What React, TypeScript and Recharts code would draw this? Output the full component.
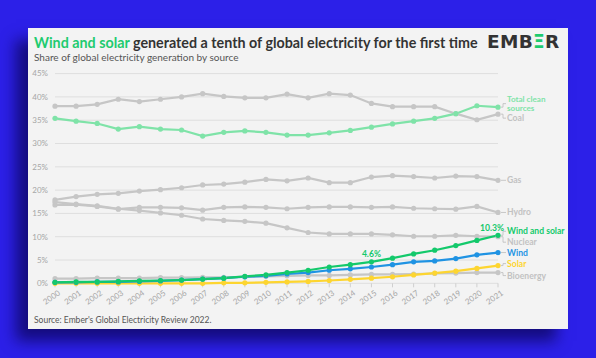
import React from 'react';
import { LineChart, Line, XAxis, YAxis, CartesianGrid, LabelList } from 'recharts';

const years = ['2000','2001','2002','2003','2004','2005','2006','2007','2008','2009','2010','2011','2012','2013','2014','2015','2016','2017','2018','2019','2020','2021'];
const coal = [38.0,38.0,38.4,39.5,39.0,39.5,40.0,40.7,40.1,39.8,39.8,40.6,39.8,40.7,40.4,38.6,37.9,37.9,37.9,36.4,35.1,36.3];
const clean = [35.4,34.8,34.3,33.1,33.6,33.1,32.9,31.6,32.4,32.7,32.4,31.8,31.8,32.3,32.8,33.5,34.2,34.8,35.4,36.4,38.1,37.8];
const gas = [17.9,18.6,19.1,19.3,19.8,20.1,20.5,21.1,21.3,21.7,22.3,22.0,22.6,21.6,21.6,22.8,23.1,22.9,22.6,23.0,22.9,22.1];
const hydro = [16.8,16.9,16.5,15.9,16.3,16.3,16.2,15.7,16.3,16.4,16.3,16.0,16.3,16.4,16.4,16.3,16.4,16.1,16.0,15.9,16.5,15.2];
const nuclear = [17.4,17.0,16.6,16.0,15.6,15.1,14.6,13.8,13.5,13.3,12.9,11.9,10.9,10.6,10.6,10.6,10.4,10.1,10.1,10.3,10.1,10.0];
const windSolar = [0.2,0.3,0.3,0.4,0.5,0.6,0.7,0.9,1.1,1.5,1.8,2.3,2.8,3.5,4.0,4.6,5.4,6.3,7.1,8.1,9.2,10.3];
const wind = [0.2,0.2,0.3,0.3,0.4,0.5,0.7,0.9,1.1,1.4,1.6,2.0,2.3,2.8,3.1,3.5,4.0,4.6,4.8,5.3,6.1,6.6];
const solar = [0.0,0.0,0.0,0.0,0.0,0.0,0.0,0.0,0.1,0.1,0.2,0.3,0.4,0.6,0.85,1.1,1.4,1.8,2.2,2.6,3.2,3.8];
const bio = [1.0,1.0,1.1,1.1,1.1,1.2,1.2,1.3,1.3,1.4,1.5,1.6,1.7,1.7,1.8,1.9,1.9,2.0,2.1,2.2,2.3,2.3];
const yTicks = [0,5,10,15,20,25,30,35,40,45];

const data = years.map((y, i) => ({
  year: y, coal: coal[i], clean: clean[i], gas: gas[i], hydro: hydro[i], nuclear: nuclear[i],
  windSolar: windSolar[i], wind: wind[i], solar: solar[i], bio: bio[i],
}));

const FONT = 'Lato, "Noto Sans", sans-serif';
const GRAY = '#c6c6c6';
const LGREEN = '#7fe3a8';
const GREEN = '#13c96b';
const BLUE = '#1f93e3';
const YELLOW = '#fdd530';

type Cfg = { key: string; color: string; text: string[]; dy: number; textColor: string };
const series: Cfg[] = [
  { key: 'coal', color: GRAY, text: ['Coal'], dy: 4, textColor: '#c2c2c2' },
  { key: 'gas', color: GRAY, text: ['Gas'], dy: 0, textColor: '#c2c2c2' },
  { key: 'hydro', color: GRAY, text: ['Hydro'], dy: 0, textColor: '#c2c2c2' },
  { key: 'nuclear', color: GRAY, text: ['Nuclear'], dy: 5.5, textColor: '#c2c2c2' },
  { key: 'bio', color: GRAY, text: ['Bioenergy'], dy: 3, textColor: '#c2c2c2' },
  { key: 'clean', color: LGREEN, text: ['Total clean', 'sources'], dy: -3.5, textColor: LGREEN },
  { key: 'solar', color: YELLOW, text: ['Solar'], dy: -2, textColor: YELLOW },
  { key: 'wind', color: BLUE, text: ['Wind'], dy: 0, textColor: BLUE },
  { key: 'windSolar', color: GREEN, text: ['Wind and solar'], dy: -4, textColor: GREEN },
];

const last = years.length - 1;

const makeEndLabel = (cfg: Cfg) => (props: any) => {
  const { x, y, index } = props;
  if (index !== last) return null;
  const ly = y + cfg.dy;
  const x0 = x + 3;
  const path = cfg.dy === 0
    ? `M${x0},${y} L${x0 + 5},${y}`
    : `M${x0},${y} L${x0 + 2},${y} L${x0 + 2},${ly} L${x0 + 5},${ly}`;
  const multi = cfg.text.length > 1;
  const lh = 9.7;
  const fs = multi ? 8.1 : 8.6;
  const startY = ly - ((cfg.text.length - 1) * lh) / 2;
  return (
    <g>
      <path d={path} stroke="#bdbdbd" strokeWidth={0.8} fill="none" />
      {cfg.text.map((t, i) => (
        <text key={i} x={x0 + 6} y={startY + i * lh} dy="0.35em" fontSize={fs} fontWeight={700}
          fill={cfg.textColor} fontFamily={FONT}>{t}</text>
      ))}
    </g>
  );
};

const annot = (props: any) => {
  const { x, y, index, value } = props;
  if (index === 15 || index === last) {
    return (
      <text x={index === last ? x - 6 : x} y={y - 4.5} textAnchor="middle" fontSize={8.6} fontWeight={700} fill={GREEN} fontFamily={FONT}>
        {value}%
      </text>
    );
  }
  return null;
};

const XTick = (props: any) => {
  const { x, y, payload } = props;
  return (
    <g transform={`translate(${x + 3},${y + 1})`}>
      <text x={0} y={0} dy="0.6em" textAnchor="end" transform="rotate(-35)" fontSize={8} fill="#a6a6a6" fontFamily={FONT}>
        {payload.value}
      </text>
    </g>
  );
};

export default function App() {
  return (
    <div style={{ position: 'fixed', left: 0, top: 0, width: 596, height: 358, background: '#2c20e8', overflow: 'hidden', fontFamily: FONT }}>
      <div style={{ position: 'absolute', left: 28, top: 28, width: 540, height: 301, background: '#f3f3f3', boxShadow: '-12px 12px 14px rgba(12,6,90,0.75)' }} />
      <div style={{ position: 'absolute', left: 34, top: 34, fontSize: 14.3, fontWeight: 700, color: '#333', whiteSpace: 'nowrap', lineHeight: '18px' }}>
        <span style={{ color: '#1ecb6f' }}>Wind and solar</span> generated a tenth of global electricity for the first time
      </div>
      <div style={{ position: 'absolute', left: 34, top: 50, fontSize: 10, color: '#555', whiteSpace: 'nowrap', lineHeight: '14px' }}>
        Share of global electricity generation by source
      </div>
      <div style={{ position: 'absolute', left: 487, top: 31, fontSize: 18.5, fontWeight: 700, color: '#333', whiteSpace: 'nowrap', lineHeight: '22px', fontFamily: '"DejaVu Sans", sans-serif', letterSpacing: 0.3 }}>
        EMB<span style={{ color: '#1ecb6f' }}>Ξ</span>R
      </div>
      <div style={{ position: 'absolute', left: 34, top: 314, fontSize: 8.5, color: '#555', whiteSpace: 'nowrap', lineHeight: '12px' }}>
        Source: Ember's Global Electricity Review 2022.
      </div>
      <LineChart width={596} height={358} data={data} style={{ position: 'absolute', left: 0, top: 0 }}
        margin={{ top: 73.6, right: 98, bottom: 34.7, left: 0 }}>
        <CartesianGrid vertical={false} stroke="#dedede" strokeWidth={1} />
        <XAxis dataKey="year" height={40} interval={0} axisLine={false} tickLine={{ stroke: '#cfcfcf' }} tickSize={4}
          tick={<XTick />} padding={{ left: 0, right: 0 }} />
        <YAxis domain={[0, 45]} ticks={yTicks} width={55} axisLine={false} tickLine={false} tickSize={0} tickMargin={7}
          tickFormatter={(v: number) => `${v}%`} tick={{ fontSize: 8, fill: '#a6a6a6', fontFamily: FONT }} />
        {series.map((s) => (
          <Line key={s.key} dataKey={s.key} stroke={s.color} strokeWidth={2.2} isAnimationActive={false}
            dot={{ r: 2.6, fill: s.color, stroke: 'none' }} activeDot={false}>
            <LabelList dataKey={s.key} content={makeEndLabel(s)} />
            {s.key === 'windSolar' ? <LabelList dataKey={s.key} content={annot} /> : null}
          </Line>
        ))}
      </LineChart>
    </div>
  );
}
